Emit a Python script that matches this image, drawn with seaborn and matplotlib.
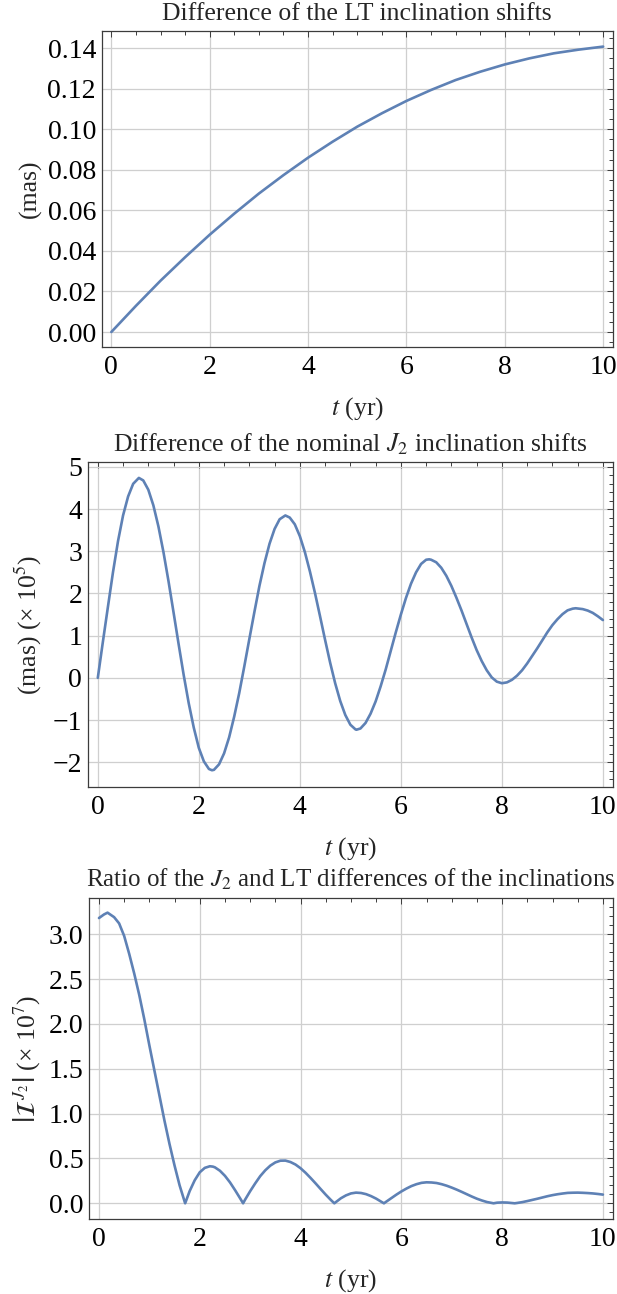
import matplotlib
matplotlib.use("Agg")
import matplotlib.pyplot as plt
from matplotlib.ticker import MultipleLocator, FuncFormatter
import seaborn as sns

# ---- data ----
# top panel: difference of the LT inclination shifts (mas)
t_lt = [0.0, 0.5, 1.0, 1.5, 2.0, 2.5, 3.0, 3.5, 4.0, 4.5, 5.0,
        5.5, 6.0, 6.5, 7.0, 7.5, 8.0, 8.5, 9.0, 9.5, 10.0]
lt_diff = [0.0, 0.0129, 0.0253, 0.0369, 0.0480, 0.0584, 0.0683, 0.0774,
           0.0860, 0.0939, 0.1013, 0.1079, 0.1140, 0.1194, 0.1243, 0.1284,
           0.1320, 0.1350, 0.1375, 0.1393, 0.1408]

# middle panel: difference of the nominal J2 inclination shifts (mas, x 1e5)
t_j2 = [0.0, 0.1, 0.2, 0.3, 0.4, 0.5, 0.6, 0.7, 0.813, 0.9,
        1.0, 1.1, 1.2, 1.3, 1.4, 1.5, 1.6, 1.7, 1.8, 1.9,
        2.0, 2.1, 2.2, 2.26, 2.3, 2.4, 2.5, 2.6, 2.7, 2.8,
        2.9, 3.0, 3.1, 3.2, 3.3, 3.4, 3.5, 3.6, 3.713, 3.8,
        3.9, 4.0, 4.1, 4.2, 4.3, 4.4, 4.5, 4.6, 4.7, 4.8,
        4.9, 5.0, 5.1, 5.12, 5.2, 5.3, 5.4, 5.5, 5.6, 5.7,
        5.8, 5.9, 6.0, 6.1, 6.2, 6.3, 6.4, 6.5, 6.56, 6.6,
        6.7, 6.8, 6.9, 7.0, 7.1, 7.2, 7.3, 7.4, 7.5, 7.6,
        7.7, 7.8, 7.9, 8.0, 8.1, 8.2, 8.3, 8.4, 8.5, 8.6,
        8.7, 8.8, 8.9, 9.0, 9.1, 9.2, 9.3, 9.4, 9.46, 9.6,
        9.7, 9.8, 9.9, 10.0]
j2_diff = [0.0, 0.85, 1.68, 2.50, 3.24, 3.85, 4.30, 4.60, 4.74, 4.68,
           4.46, 4.09, 3.59, 2.98, 2.29, 1.55, 0.80, 0.07, -0.60, -1.18,
           -1.66, -1.98, -2.16, -2.19, -2.18, -2.05, -1.79, -1.41, -0.92, -0.36,
           0.27, 0.92, 1.56, 2.18, 2.72, 3.18, 3.53, 3.76, 3.85, 3.80,
           3.64, 3.36, 2.98, 2.52, 2.01, 1.46, 0.90, 0.36, -0.13, -0.55,
           -0.88, -1.11, -1.22, -1.23, -1.20, -1.07, -0.85, -0.56, -0.20, 0.20,
           0.64, 1.08, 1.50, 1.89, 2.23, 2.50, 2.70, 2.80, 2.81, 2.80,
           2.74, 2.61, 2.42, 2.18, 1.90, 1.60, 1.28, 0.96, 0.66, 0.40,
           0.18, 0.01, -0.09, -0.127, -0.107, -0.046, 0.052, 0.18, 0.34, 0.52,
           0.70, 0.89, 1.08, 1.25, 1.39, 1.51, 1.60, 1.64, 1.65, 1.63,
           1.595, 1.54, 1.46, 1.37]

# bottom panel: |ratio| of the J2 and LT differences (x 1e7)
t_ratio = [0.0, 0.1, 0.17, 0.3, 0.4, 0.5, 0.6, 0.7, 0.8, 0.9,
           1.0, 1.1, 1.2, 1.3, 1.4, 1.5, 1.6, 1.71, 1.8, 1.9,
           2.0, 2.1, 2.2, 2.26, 2.3, 2.4, 2.5, 2.6, 2.7, 2.8,
           2.86, 2.9, 3.0, 3.1, 3.2, 3.3, 3.4, 3.5, 3.6, 3.7,
           3.8, 3.9, 4.0, 4.1, 4.2, 4.3, 4.4, 4.5, 4.6, 4.67,
           4.7, 4.8, 4.9, 5.0, 5.1, 5.2, 5.3, 5.4, 5.5, 5.6,
           5.655, 5.7, 5.8, 5.9, 6.0, 6.1, 6.2, 6.3, 6.4, 6.5,
           6.6, 6.7, 6.8, 6.9, 7.0, 7.1, 7.2, 7.3, 7.4, 7.5,
           7.6, 7.7, 7.83, 7.9, 8.0, 8.1, 8.25, 8.3, 8.4, 8.5,
           8.6, 8.7, 8.8, 8.9, 9.0, 9.1, 9.2, 9.3, 9.4, 9.5,
           9.6, 9.7, 9.8, 9.9, 10.0]
ratio_abs = [3.18, 3.22, 3.24, 3.19, 3.12, 2.98, 2.78, 2.56, 2.32, 2.05,
             1.76, 1.48, 1.20, 0.92, 0.66, 0.42, 0.20, 0.0, 0.137, 0.257,
             0.346, 0.395, 0.413, 0.409, 0.401, 0.363, 0.306, 0.233, 0.147, 0.056,
             0.0, 0.041, 0.135, 0.222, 0.303, 0.368, 0.420, 0.456, 0.475, 0.476,
             0.460, 0.432, 0.391, 0.340, 0.282, 0.221, 0.158, 0.096, 0.038, 0.0,
             0.013, 0.056, 0.088, 0.110, 0.119, 0.115, 0.102, 0.080, 0.052, 0.018,
             0.0, 0.018, 0.057, 0.096, 0.132, 0.164, 0.192, 0.213, 0.228, 0.234,
             0.232, 0.226, 0.213, 0.196, 0.175, 0.152, 0.127, 0.101, 0.075, 0.051,
             0.031, 0.014, 0.0, 0.007, 0.0096, 0.008, 0.0, 0.004, 0.013, 0.025,
             0.038, 0.051, 0.065, 0.079, 0.091, 0.101, 0.109, 0.116, 0.118, 0.119,
             0.117, 0.114, 0.110, 0.104, 0.097]

titles = [
    "Difference of the LT inclination shifts",
    r"Difference of the nominal $J_2$ inclination shifts",
    r"Ratio of the $J_2$ and LT differences of the inclinations",
]
ylabels = [
    "(mas)",
    "(mas) (\u00d7 10$^5$)",
    r"$\left|\mathcal{I}^{\,J_2}\right|$" + " (\u00d7 10$^7$)",
]
xlabel = r"$t$ (yr)"

LINE_COLOR = "#5E81B5"
FRAME_COLOR = "#3c3c3c"
GRID_COLOR = "#cfcfcf"

sns.set_theme(style="white")
plt.rcParams["font.family"] = ["Liberation Serif", "DejaVu Serif"]
plt.rcParams["mathtext.fontset"] = "stix"
plt.rcParams["axes.unicode_minus"] = True

W, H = 617, 1294
fig = plt.figure(figsize=(W / 100, H / 100), dpi=100)

# frame boxes in pixels: left, top, right, bottom
boxes = [(101.5, 31.0, 613.0, 347.0),
         (87.7, 462.3, 613.0, 786.7),
         (88.9, 898.3, 613.0, 1219.0)]
ylabel_x = [30, 28, 27]  # centre of the y label, pixels from the left
title_size = [18.5, 18.5, 18.0]
ylims = [(-0.0074, 0.1485), (-2.58, 5.11), (-0.175, 3.4)]
ymajor = [0.02, 1.0, 0.5]
yminor = [0.005, 0.2, 0.1]
yfmt = ["{:.2f}", "{:.0f}", "{:.1f}"]
series = [(t_lt, lt_diff), (t_j2, j2_diff), (t_ratio, ratio_abs)]


def minus_fmt(fmt):
    return FuncFormatter(lambda v, p: fmt.format(v).replace("-", "\u2212"))


for i, (l, t, r, b) in enumerate(boxes):
    ax = fig.add_axes([l / W, 1 - b / H, (r - l) / W, (b - t) / H])
    x, y = series[i]
    sns.lineplot(x=x, y=y, ax=ax, color=LINE_COLOR, linewidth=1.9,
                 estimator=None)

    ax.set_xlim(-0.2, 10.2)
    ax.set_ylim(*ylims[i])
    ax.xaxis.set_major_locator(MultipleLocator(2))
    ax.xaxis.set_minor_locator(MultipleLocator(0.5))
    ax.yaxis.set_major_locator(MultipleLocator(ymajor[i]))
    ax.yaxis.set_minor_locator(MultipleLocator(yminor[i]))
    ax.yaxis.set_major_formatter(minus_fmt(yfmt[i]))
    ax.xaxis.set_major_formatter(minus_fmt("{:.0f}"))

    ax.grid(True, which="major", color=GRID_COLOR, linewidth=0.9)
    ax.set_axisbelow(True)
    for sp in ax.spines.values():
        sp.set_color(FRAME_COLOR)
        sp.set_linewidth(0.9)
    ax.tick_params(which="both", direction="in", top=True, right=True,
                   color=FRAME_COLOR, width=0.7, labelsize=20,
                   labelcolor="black")
    ax.tick_params(which="major", length=4.6, pad=6)
    ax.tick_params(which="minor", length=2.8)
    ax.tick_params(axis="y", which="major", pad=4)

    ax.set_title(titles[i], fontsize=title_size[i], pad=8)
    ax.set_xlabel(xlabel, fontsize=18.5, labelpad=11)
    ax.set_ylabel(ylabels[i], fontsize=18.5, ha="center", va="center")
    ax.yaxis.set_label_coords((ylabel_x[i] - l) / (r - l), 0.5)

fig.savefig("out.png", dpi=100)
